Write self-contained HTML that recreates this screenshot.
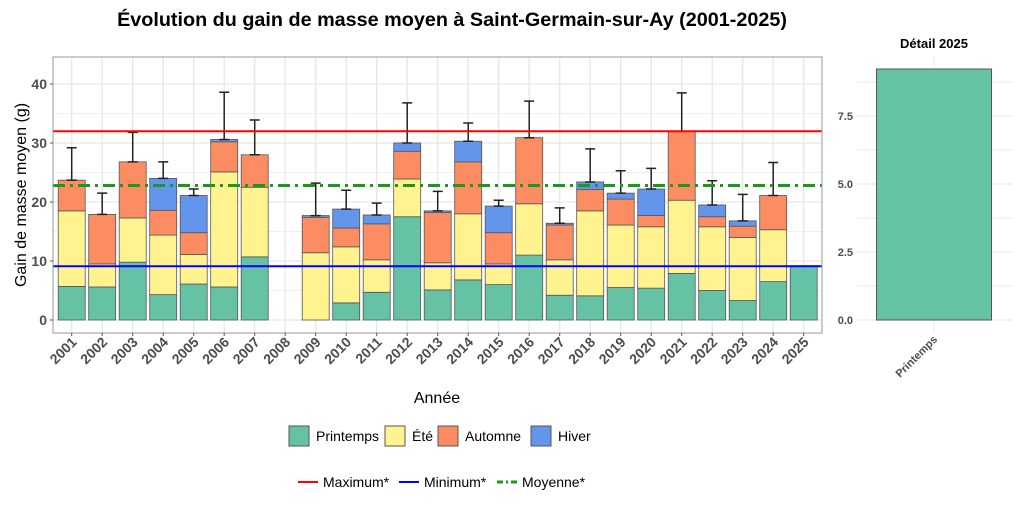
<!DOCTYPE html>
<html><head><meta charset="utf-8"><style>
body{margin:0;background:#fff}
svg{display:block;font-family:"Liberation Sans",sans-serif}
</style></head><body>
<svg id="s" width="1024" height="512" viewBox="0 0 1024 512" xmlns="http://www.w3.org/2000/svg">
<rect width="1024" height="512" fill="#fff"/>
<text x="452" y="26" font-size="19.8" font-weight="bold" text-anchor="middle" fill="#000">Évolution du gain de masse moyen à Saint-Germain-sur-Ay (2001-2025)</text>
<g id="grid"></g>
<g id="bars"></g>
<line x1="53" x2="822" y1="131.2" y2="131.2" stroke="#ff0000" stroke-width="2"/>
<line x1="53" x2="822" y1="266.3" y2="266.3" stroke="#0000ff" stroke-width="2"/>
<line x1="53" x2="822" y1="185.5" y2="185.5" stroke="#1a9a1a" stroke-width="3" stroke-dasharray="12,5,3,5"/>
<rect x="53" y="57" width="769" height="276" fill="none" stroke="#999" stroke-width="1"/>
<g id="ticks" font-size="14" font-weight="bold" fill="#4d4d4d"></g>
<text transform="translate(26,195) rotate(-90)" font-size="16" text-anchor="middle" fill="#000">Gain de masse moyen (g)</text>
<text x="437" y="403" font-size="16" text-anchor="middle" fill="#000">Année</text>
<text x="934" y="48" font-size="13" font-weight="bold" text-anchor="middle">Détail 2025</text>
<g stroke="#ebebeb" stroke-width="1">
<line x1="857" x2="1012" y1="286" y2="286"/><line x1="857" x2="1012" y1="218" y2="218"/><line x1="857" x2="1012" y1="150" y2="150"/><line x1="857" x2="1012" y1="82" y2="82"/>
<line x1="934" x2="934" y1="57" y2="333"/>
</g>
<g stroke="#ebebeb" stroke-width="1.3">
<line x1="857" x2="1012" y1="320" y2="320"/><line x1="857" x2="1012" y1="252" y2="252"/><line x1="857" x2="1012" y1="184" y2="184"/><line x1="857" x2="1012" y1="116" y2="116"/>
</g>
<rect x="876.5" y="69" width="115" height="251" fill="#66c2a5" stroke="#555" stroke-width="1"/>
<g font-size="11" font-weight="bold" fill="#4d4d4d" text-anchor="end">
<text x="853" y="324">0.0</text><text x="853" y="256">2.5</text><text x="853" y="188">5.0</text><text x="853" y="120">7.5</text>
</g>
<text transform="translate(938,340) rotate(-45)" font-size="11" font-weight="bold" fill="#4d4d4d" text-anchor="end">Printemps</text>
<g font-size="14" fill="#000">
<rect x="289" y="426" width="20" height="20" fill="#66c2a5" stroke="#555"/><text x="316" y="441">Printemps</text>
<rect x="385" y="426" width="20" height="20" fill="#fff38f" stroke="#555"/><text x="412" y="441">Été</text>
<rect x="438" y="426" width="20" height="20" fill="#fc8d62" stroke="#555"/><text x="465" y="441">Automne</text>
<rect x="531" y="426" width="20" height="20" fill="#6495ed" stroke="#555"/><text x="558" y="441">Hiver</text>
<line x1="298" x2="318" y1="482" y2="482" stroke="#ff0000" stroke-width="2"/><text x="323" y="487">Maximum*</text>
<line x1="399" x2="419" y1="482" y2="482" stroke="#0000ff" stroke-width="2"/><text x="424" y="487">Minimum*</text>
<line x1="497" x2="517" y1="482" y2="482" stroke="#1a9a1a" stroke-width="3" stroke-dasharray="6,3,2,3"/><text x="522" y="487">Moyenne*</text>
</g>
</svg>
<script>
(function(){
var ns="http://www.w3.org/2000/svg";
function el(p,t,a){var e=document.createElementNS(ns,t);for(var k in a)e.setAttribute(k,a[k]);p.appendChild(e);return e;}
var Y=function(v){return 320-v*5.9;};
var g=document.getElementById('grid'),b=document.getElementById('bars'),tk=document.getElementById('ticks');
[5,15,25,35].forEach(function(v){el(g,'line',{x1:53,x2:822,y1:Y(v),y2:Y(v),stroke:'#f0f0f0','stroke-width':1});});
[0,10,20,30,40].forEach(function(v){el(g,'line',{x1:53,x2:822,y1:Y(v),y2:Y(v),stroke:'#e6e6e6','stroke-width':1.3});
 var t=el(tk,'text',{x:47,y:Y(v)+5,'text-anchor':'end'});t.textContent=v;});
var D={2001:[5.7,18.5,23.7,23.7,29.2],2002:[5.6,9.5,17.9,17.9,21.5],2003:[9.8,17.3,26.8,26.8,31.8],2004:[4.3,14.4,18.6,24.0,26.8],
2005:[6.1,11.1,14.8,21.1,22.2],2006:[5.6,25.1,30.2,30.6,38.6],2007:[10.7,22.5,28.0,28.0,33.9],2008:null,
2009:[0,11.4,17.4,17.7,23.2],2010:[2.9,12.4,15.6,18.8,22.0],2011:[4.7,10.2,16.3,17.8,19.8],2012:[17.5,23.9,28.6,30.0,36.8],
2013:[5.1,9.7,18.2,18.5,21.8],2014:[6.8,18.0,26.8,30.3,33.4],2015:[6.0,9.5,14.8,19.3,20.3],2016:[11.0,19.7,30.9,30.9,37.1],
2017:[4.2,10.2,16.1,16.4,19.0],2018:[4.1,18.5,22.1,23.4,29.0],2019:[5.5,16.1,20.5,21.5,25.3],2020:[5.4,15.8,17.7,22.2,25.7],
2021:[7.9,20.3,32.0,32.0,38.5],2022:[5.0,15.8,17.5,19.5,23.6],2023:[3.3,14.0,15.9,16.8,21.3],2024:[6.5,15.3,21.1,21.1,26.7],2025:[9.2,9.2,9.2,9.2,null]};
var C=['#66c2a5','#fff38f','#fc8d62','#6495ed'];
for(var yr=2001;yr<=2025;yr++){
 var cx=71.7+(yr-2001)*30.5;
 el(g,'line',{x1:cx,x2:cx,y1:57,y2:333,stroke:'#e6e6e6','stroke-width':1.3});
 var t=el(tk,'text',{transform:'translate('+(cx+6)+',343) rotate(-45)','text-anchor':'end'});t.textContent=yr;
 el(tk,'line',{x1:cx,x2:cx,y1:333,y2:336,stroke:'#555'});
 var d=D[yr];if(!d)continue;
 var prev=0;
 for(var i=0;i<4;i++){var h=d[i]-prev;if(h>0.01){el(b,'rect',{x:cx-13.5,y:Y(d[i]),width:27,height:h*5.9,fill:C[i],stroke:'#555','stroke-width':0.8});}prev=d[i];}
 if(d[4]){var tp=d[3];el(b,'path',{d:'M'+cx+' '+Y(tp)+'V'+Y(d[4])+'M'+(cx-5)+' '+Y(d[4])+'H'+(cx+5)+'M'+(cx-5)+' '+Y(tp)+'H'+(cx+5),stroke:'#222','stroke-width':1.5,fill:'none'});}
}
[0,10,20,30,40].forEach(function(v){el(tk,'line',{x1:50,x2:53,y1:Y(v),y2:Y(v),stroke:'#555'});});
})();
</script>
</body></html>
